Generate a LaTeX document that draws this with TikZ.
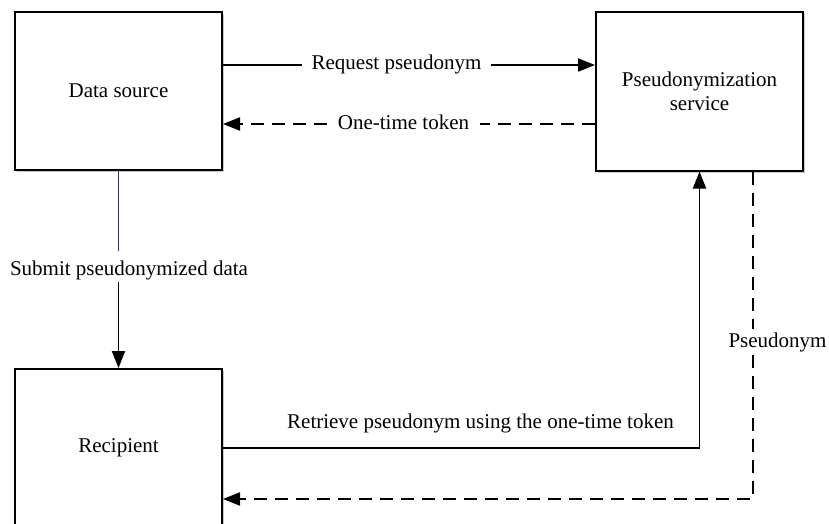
\documentclass[tikz,border=0pt]{standalone}
\usepackage{fontspec}
\setmainfont{Liberation Serif}
\usetikzlibrary{arrows.meta,shadows}
\definecolor{navyline}{RGB}{35,52,92}
\begin{document}
\begin{tikzpicture}[x=1pt,y=-1pt,
  box/.style={draw, line width=2pt, fill=white, minimum width=207pt, minimum height=158pt,
    inner sep=0pt, align=center, font=\fontsize{21}{24}\selectfont,
    drop shadow={shadow xshift=2pt, shadow yshift=-2pt, opacity=0.3, fill=black!70}},
  lbl/.style={font=\fontsize{21}{24}\selectfont, inner sep=0pt},
  hlbl/.style={lbl, text height=10pt, text depth=0pt},
  conn/.style={line width=1.9pt},
  dashline/.style={dash pattern=on 13pt off 8pt},
  tip/.style={-{Triangle[length=17pt,width=13pt]}}
]
\useasboundingbox (0,0) rectangle (829,524);

% boxes
\node[box] (ds) at (118.5,91) {Data source};
\node[box] (ps) at (699.5,91.5) {Pseudonymization\\service};
\node[box] (rc) at (118.5,448) {Recipient};

% labels
\node[hlbl, inner xsep=9.5pt] (req) at (396.5,65) {Request pseudonym};
\node[hlbl, inner xsep=11pt] (tok) at (403.5,124) {One-time token};
\node[lbl, anchor=base] (sub) at (129,275) {Submit pseudonymized data};
\node[lbl, anchor=base] (ret) at (480.5,428) {Retrieve pseudonym using the one-time token};
\node[lbl, anchor=base, inner ysep=3pt] (pse) at (777.5,347) {Pseudonym};
\coordinate (pbx) at (752.7,499);

% connectors
\draw[conn] (ds.east |- req) -- (req.west);
\draw[conn,tip] (req.east) -- (ps.west |- req);

\draw[conn,dashline] (ps.west |- tok) -- (tok.east);
\draw[conn,dashline,tip] (tok.west) -- (ds.east |- tok);

\draw[conn,navyline] (ds.south) -- ([yshift=9pt]ds.south |- sub.north);
\draw[conn,tip] ([yshift=-2pt]ds.south |- sub.south) -- (rc.north);

\draw[conn,tip] (rc.east) -| (ps.south);

\draw[conn,dashline] (ps.south -| pbx) -- (pbx |- pse.north);
\draw[conn,dashline,tip] (pbx |- pse.south) -- (pbx) -- (rc.east |- pbx);
\end{tikzpicture}
\end{document}
